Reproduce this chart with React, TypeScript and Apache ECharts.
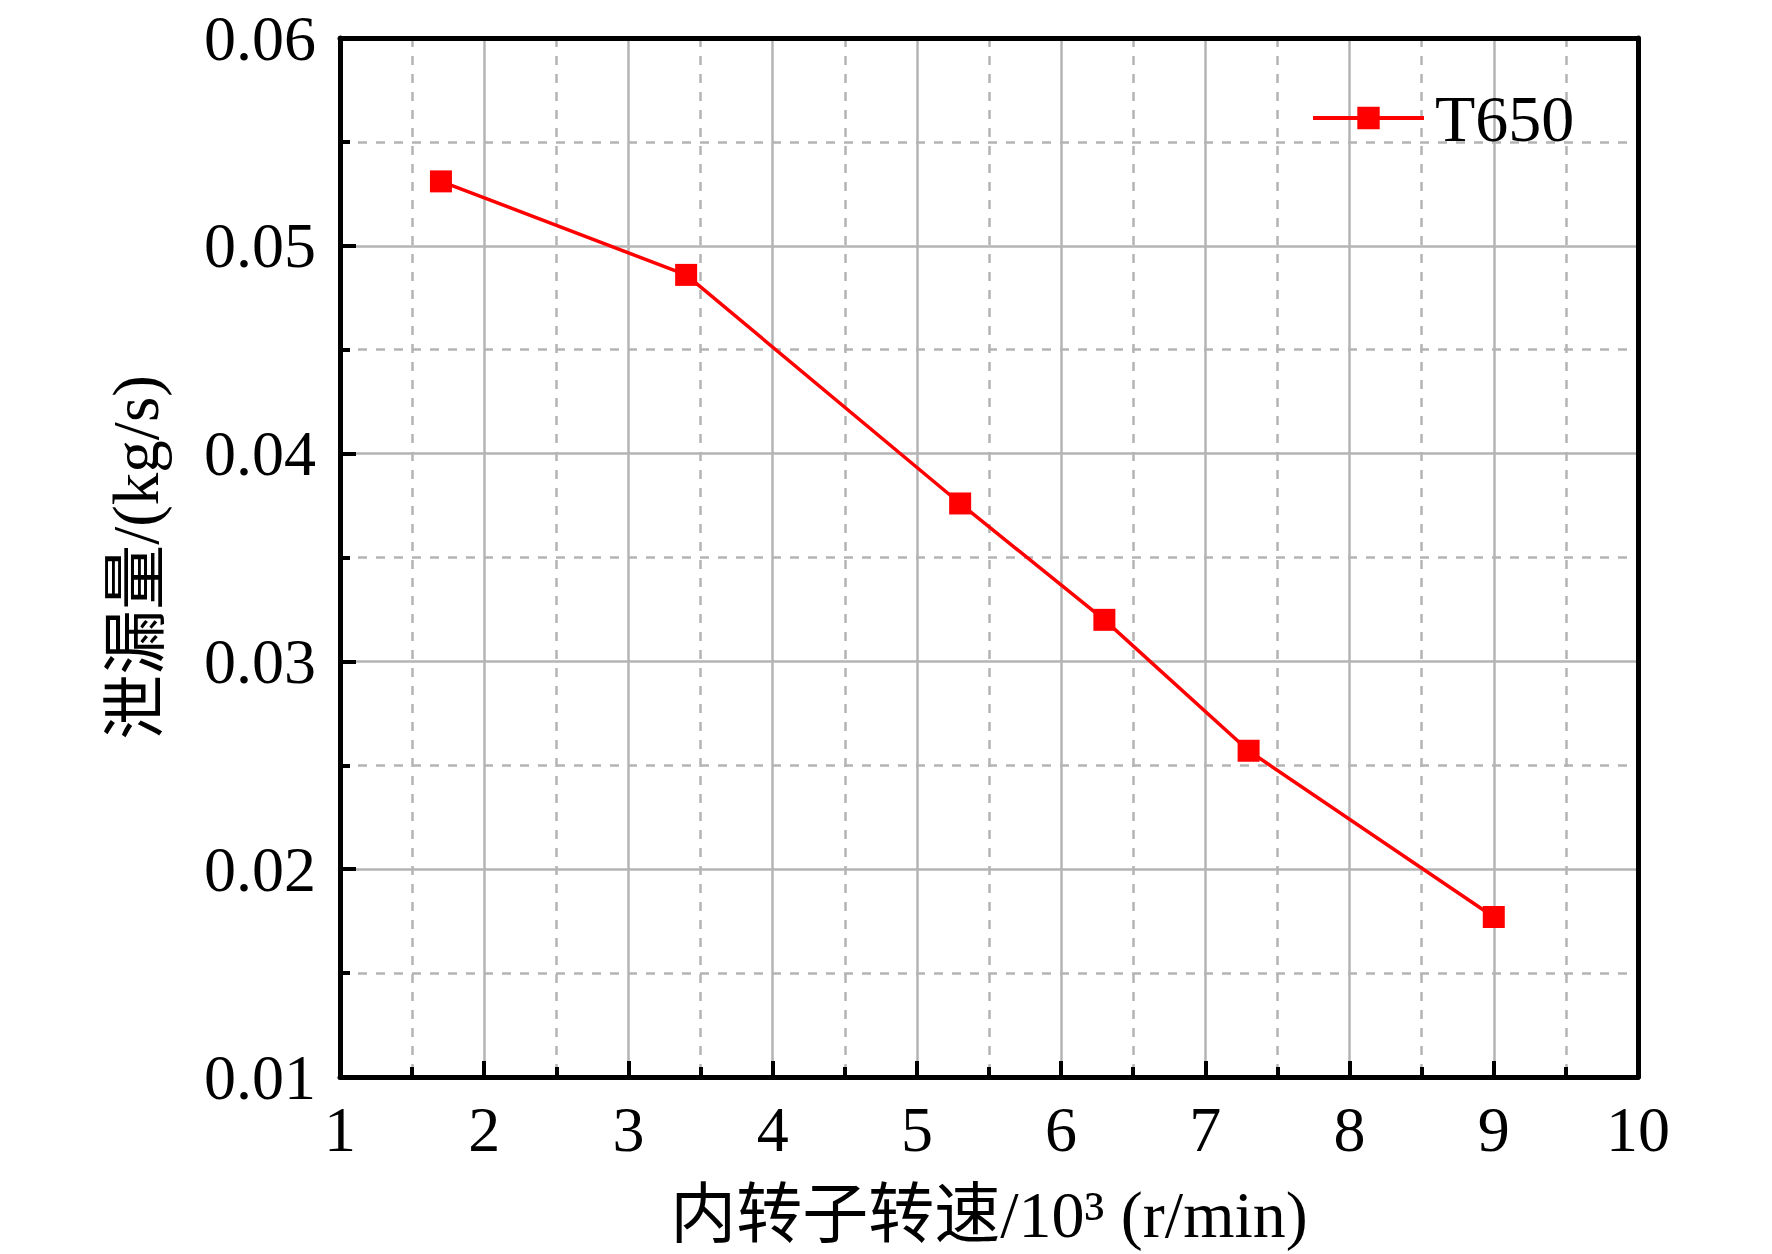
import React, { useEffect, useRef } from "react";
import * as echarts from "echarts";

const speeds = [1.7, 3.4, 5.3, 6.3, 7.3, 9.0];
const leakage = [0.0531, 0.0486, 0.0376, 0.032, 0.0257, 0.0177];
const seriesName = "T650";
const xTitle = "内转子转速/10³ (r/min)";
const yTitle = "泄漏量/(kg/s)";

const FONT = "'Liberation Serif', 'Times New Roman', 'Noto Sans CJK SC', serif";

export default function App() {
  const ref = useRef<HTMLDivElement>(null);
  useEffect(() => {
    if (!ref.current) return;
    const chart = echarts.init(ref.current, undefined, { renderer: "svg" });
    const gridColor = "#b4b4b4";
    chart.setOption({
      animation: false,
      backgroundColor: "#ffffff",
      grid: { left: 340, right: 134, top: 38, bottom: 177, containLabel: false },
      legend: {
        left: 1306,
        top: 80,
        itemWidth: 111,
        itemHeight: 28,
        lineStyle: { width: 4 },
        textStyle: { fontFamily: FONT, fontSize: 66, color: "#000", padding: [0, 0, 0, 6] },
        data: [seriesName],
      },
      xAxis: [
        {
          type: "value",
          min: 1,
          max: 10,
          interval: 1,
          name: xTitle,
          nameLocation: "middle",
          nameGap: 104,
          nameTextStyle: { fontFamily: FONT, fontSize: 66, color: "#000" },
          axisLine: { lineStyle: { color: "#000", width: 5 } },
          axisTick: { inside: true, length: 16, lineStyle: { color: "#000", width: 4 } },
          minorTick: { show: true, splitNumber: 2, length: 10, lineStyle: { color: "#000", width: 4 } },
          axisLabel: { fontFamily: FONT, fontSize: 64, color: "#000", margin: 20 },
          splitLine: { show: true, lineStyle: { color: gridColor, width: 2.5 } },
          minorSplitLine: { show: true, lineStyle: { color: gridColor, width: 2.5, type: [9, 9] } },
        },
        {
          type: "value",
          position: "top",
          min: 1,
          max: 10,
          interval: 1,
          axisLine: { show: true, lineStyle: { color: "#000", width: 5 } },
          axisTick: { show: false },
          axisLabel: { show: false },
          splitLine: { show: false },
        },
      ],
      yAxis: [
        {
          type: "value",
          min: 0.01,
          max: 0.06,
          interval: 0.01,
          name: yTitle,
          nameLocation: "middle",
          nameGap: 172,
          nameTextStyle: { fontFamily: FONT, fontSize: 65, color: "#000" },
          axisLine: { show: true, lineStyle: { color: "#000", width: 5 } },
          axisTick: { inside: true, length: 16, lineStyle: { color: "#000", width: 4 } },
          minorTick: { show: true, splitNumber: 2, length: 10, lineStyle: { color: "#000", width: 4 } },
          axisLabel: {
            fontFamily: FONT,
            fontSize: 64,
            color: "#000",
            margin: 24,
            formatter: (v: number) => v.toFixed(2),
          },
          splitLine: { show: true, lineStyle: { color: gridColor, width: 2.5 } },
          minorSplitLine: { show: true, lineStyle: { color: gridColor, width: 2.5, type: [9, 9] } },
        },
        {
          type: "value",
          position: "right",
          min: 0.01,
          max: 0.06,
          interval: 0.01,
          axisLine: { show: true, lineStyle: { color: "#000", width: 5 } },
          axisTick: { show: false },
          axisLabel: { show: false },
          splitLine: { show: false },
        },
      ],
      series: [
        {
          name: seriesName,
          type: "line",
          xAxisIndex: 0,
          yAxisIndex: 0,
          data: speeds.map((s, i) => [s, leakage[i]]),
          symbol: "rect",
          symbolSize: 22,
          itemStyle: { color: "#ff0000" },
          lineStyle: { color: "#ff0000", width: 3.5 },
          z: 5,
        },
      ],
    });
    return () => chart.dispose();
  }, []);
  return (
    <div
      ref={ref}
      style={{ position: "absolute", left: 0, top: 0, width: 1772, height: 1254, background: "#fff" }}
    />
  );
}
